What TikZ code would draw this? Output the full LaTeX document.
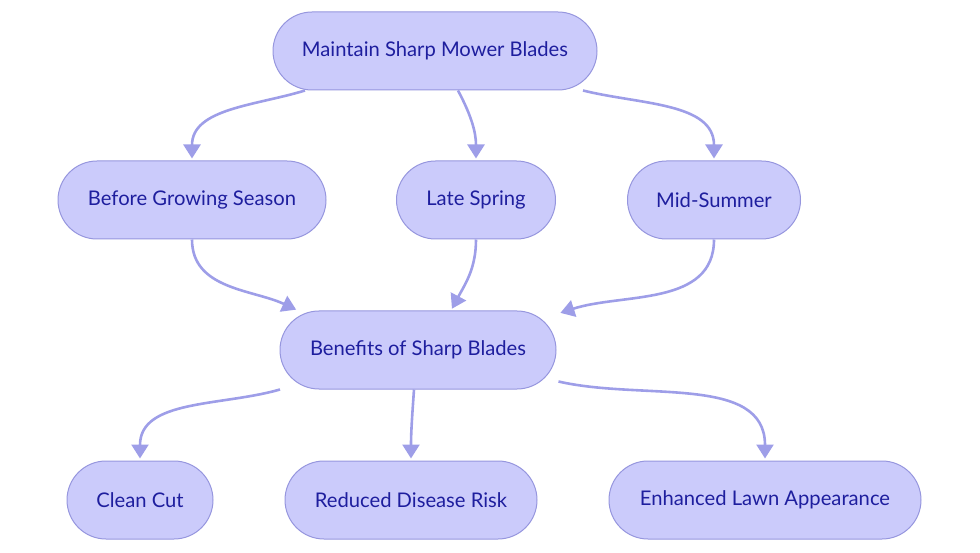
\documentclass[tikz,border=0pt]{standalone}
\usepackage{fontspec}
\setmainfont{Lato}
\usepackage{xcolor}
\usetikzlibrary{arrows.meta,positioning}
\definecolor{pfill}{RGB}{203,203,251}
\definecolor{pedge}{RGB}{150,150,222}
\definecolor{pline}{RGB}{158,158,232}
\definecolor{ptext}{RGB}{30,30,158}

\begin{document}
\begin{tikzpicture}[
  x=1pt,y=1pt,
  font=\fontsize{20.2}{23}\selectfont,
  pill/.style={rounded corners=39pt,draw=pedge,fill=pfill,line width=1pt,text=ptext,minimum height=78pt,align=center,inner xsep=0pt},
  arr/.style={-{Triangle[length=14pt,width=17pt]},line width=2.6pt,pline,shorten >=2pt},
  ]
  \useasboundingbox (0,0) rectangle (980,-553);
  % top row
  \node[pill,minimum width=324pt] (top) at (435,-51) {Maintain Sharp Mower Blades};
  % when to sharpen
  \node[pill,minimum width=268pt] (pre) at (192,-200) {Before Growing Season};
  \node[pill,minimum width=159pt] (spr) at (476,-200) {Late Spring};
  \node[pill,minimum width=173pt] (sum) at (714,-200) {Mid-Summer};
  % middle
  \node[pill,minimum width=276pt] (ben) at (418,-350) {Benefits of Sharp Blades};
  % bottom row
  \node[pill,minimum width=146pt] (cut) at (140,-500) {Clean Cut};
  \node[pill,minimum width=252pt] (dis) at (411,-500) {Reduced Disease Risk};
  \node[pill,minimum width=312pt] (lawn) at (765,-500) {Enhanced Lawn Appearance};

  \draw[arr] ([xshift=-130pt]top.south) to[out=197,in=90] (pre.north);
  \draw[arr] ([xshift=23pt]top.south) to[out=-62,in=90] (spr.north);
  \draw[arr] ([xshift=148pt]top.south) to[out=-14,in=90] (sum.north);

  \draw[arr] (pre.south) to[out=-90,in=155] ([xshift=-120pt]ben.north);
  \draw[arr] (spr.south) to[out=-90,in=62] ([xshift=33pt]ben.north);
  \draw[arr] (sum.south) to[out=-90,in=18] ([xshift=2pt,yshift=-3pt]ben.north east);

  \draw[arr] ([xshift=-138pt]ben.south) to[out=196,in=90] (cut.north);
  \draw[arr] ([xshift=-4pt]ben.south) to[out=-94,in=90] (dis.north);
  \draw[arr] ([xshift=2pt,yshift=8pt]ben.south east) to[out=-13,in=90] (lawn.north);
\end{tikzpicture}
\end{document}
